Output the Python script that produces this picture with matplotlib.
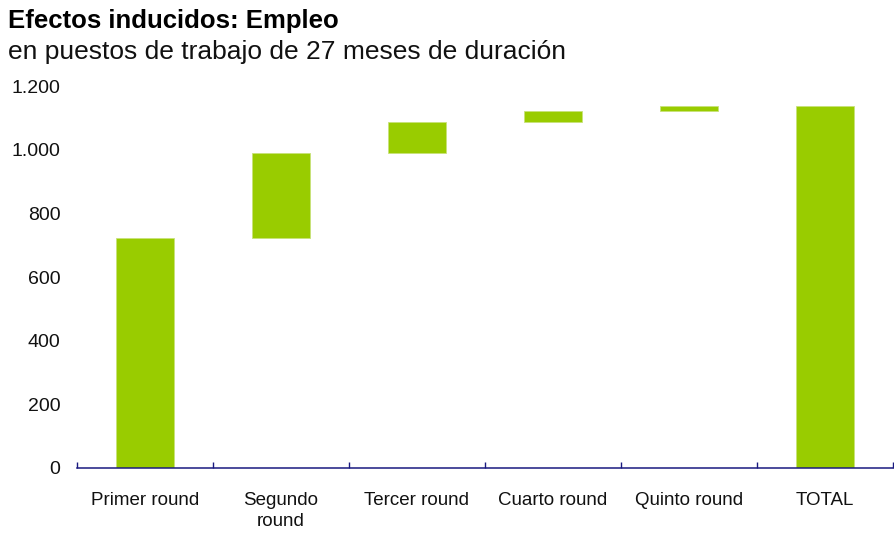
import matplotlib
matplotlib.use("Agg")
import matplotlib.pyplot as plt
from matplotlib.ticker import FuncFormatter, FixedLocator

categories = ["Primer round", "Segundo\nround", "Tercer round", "Cuarto round", "Quinto round", "TOTAL"]
increments = [723, 266, 97, 35, 17]
total_value = 1138
y_ticks = [0, 200, 400, 600, 800, 1000, 1200]

title = "Efectos inducidos: Empleo"
subtitle = "en puestos de trabajo de 27 meses de duración"

plt.rcParams['font.family'] = ['Liberation Sans', 'DejaVu Sans']

W, H = 894, 534
fig = plt.figure(figsize=(W / 100, H / 100), dpi=100)
ax = fig.add_axes([77 / W, 1 - 468 / H, 816 / W, (468 - 86) / H])

bar_color = "#99CC00"
edge_color = "#c8e27a"
bottoms = []
acc = 0
for v in increments:
    bottoms.append(acc)
    acc += v
xs = list(range(len(categories)))
ax.bar(xs[:-1], increments, bottom=bottoms, width=0.42, color=bar_color,
       edgecolor=edge_color, linewidth=0.6, zorder=2)
ax.bar(xs[-1], total_value, bottom=0, width=0.42, color=bar_color,
       edgecolor=edge_color, linewidth=0.6, zorder=2)

ax.set_xlim(-0.5, len(categories) - 0.5)
ax.set_ylim(0, 1200)

for s in ["top", "right", "left"]:
    ax.spines[s].set_visible(False)
ax.spines["bottom"].set_color("#1a1a80")
ax.spines["bottom"].set_linewidth(1.1)
ax.spines["bottom"].set_zorder(3)

ax.set_yticks(y_ticks)
ax.yaxis.set_major_formatter(FuncFormatter(lambda v, p: f"{int(v):,}".replace(",", ".")))
ax.tick_params(axis="y", length=0, pad=12, labelsize=14, labelcolor="#111111")

ax.set_xticks(xs)
ax.set_xticklabels(categories)
ax.xaxis.set_minor_locator(FixedLocator([i - 0.5 for i in range(len(categories) + 1)]))
ax.tick_params(axis="x", which="major", length=0, pad=17, labelsize=13.5, labelcolor="#111111")
ax.tick_params(axis="x", which="minor", direction="in", length=4, width=1, color="#1a1a80")
for lbl in ax.get_xticklabels():
    lbl.set_linespacing(1.3)

fig.text(8 / W, 1 - 28.3 / H, title, fontsize=18.5, fontweight="bold", va="baseline", ha="left", color="#000000")
fig.text(8 / W, 1 - 59.3 / H, subtitle, fontsize=19, va="baseline", ha="left", color="#111111")

fig.savefig("out.png", dpi=100)
